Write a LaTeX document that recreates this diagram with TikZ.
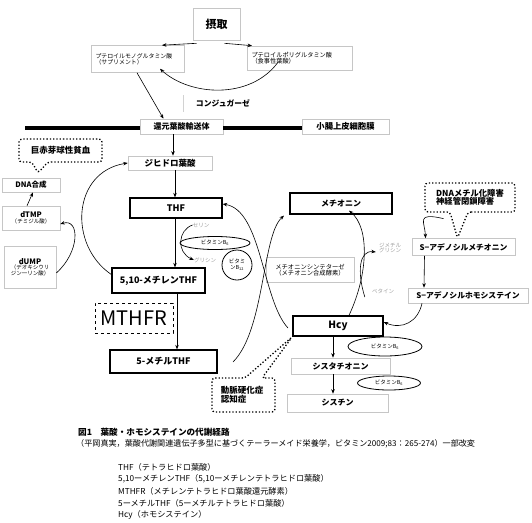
\documentclass[tikz,border=0pt]{standalone}
\usepackage{fontspec}
\setmainfont{Noto Sans CJK JP}
\usetikzlibrary{shapes.geometric,arrows.meta,calc}
\newcommand{\myfs}[1]{\fontsize{#1}{#1}\selectfont}
\tikzset{
  gbox/.style={draw=gray!45, line width=0.6pt, fill=white, inner sep=0pt, align=center},
  kbox/.style={draw=black, line width=1.3pt, fill=white, inner sep=0pt, align=center, font=\bfseries\myfs{9}},
  ar/.style={-{Stealth[length=4.5pt,width=3.5pt]}, line width=0.6pt},
  dotbox/.style={dotted, line width=1.3pt, rounded corners=3pt},
  vit/.style={draw=black, line width=0.8pt, ellipse, inner sep=0pt, font=\myfs{5.5}},
  glab/.style={text=gray!75, font=\myfs{5.5}, inner sep=0pt, align=left},
  captxt/.style={anchor=west, inner sep=0pt, font=\myfs{8.2}},
}
\begin{document}
\begin{tikzpicture}[x=1pt,y=-1pt]
\useasboundingbox (0,0) rectangle (532,522);
\fill[white] (0,0) rectangle (532,522);

% top
\node[gbox, minimum width=47pt, minimum height=32pt, font=\bfseries\myfs{11}] (intake) at (216.5,24) {摂取};
\node[gbox, minimum width=93pt, minimum height=27pt, text width=85pt, align=left, font=\myfs{5.9}] (mono) at (138,59) {プテロイルモノグルタミン酸\\（サプリメント）};
\node[gbox, minimum width=105pt, minimum height=24pt, text width=97pt, align=left, font=\myfs{6.2}] (poly) at (300,58) {プテロイルポリグルタミン酸\\（食事性葉酸）};
\node[font=\bfseries\myfs{7.8}, inner sep=0pt] (conj) at (223,103) {コンジュガーゼ};
\coordinate (cl1) at (183,95);
\coordinate (cl2) at (183,112);
\draw[gray!35, line width=0.6pt] (cl1) -- (cl2);

\node[gbox, minimum width=83pt, minimum height=15pt, font=\bfseries\myfs{8}] (transp) at (181.5,126.5) {還元葉酸輸送体};
\node[gbox, minimum width=87pt, minimum height=15pt, font=\bfseries\myfs{8.3}] (memb) at (345.5,126.5) {小腸上皮細胞膜};
\coordinate (mleft) at (25,128);
\draw[line width=4pt] (mleft) -- (mleft -| transp.west);
\draw[line width=4pt] (transp.east |- mleft) -- (memb.west |- mleft);

\draw[ar] ([xshift=-20pt,yshift=-3pt]intake.south) -- ([xshift=24pt]mono.north);
\draw[ar] ([xshift=8pt,yshift=-3pt]intake.south) -- ([xshift=-48pt]poly.north);
\draw[ar] ([xshift=-22pt,yshift=8pt]poly.south) .. controls (250,100) and (190,96) .. ([xshift=22pt,yshift=4pt]mono.south);
\draw[ar] ([xshift=-1pt]mono.south) -- ([xshift=-18pt]transp.north);

% folate cycle
\node[gbox, minimum width=84pt, minimum height=14pt, font=\bfseries\myfs{8.5}] (dhf) at (170,163) {ジヒドロ葉酸};
\node[kbox, minimum width=92pt, minimum height=20pt] (thf) at (176,208) {THF};
\node[kbox, minimum width=93pt, minimum height=25pt] (m510) at (158.5,280.5) {5,10-メチレンTHF};
\node[draw, dashed, line width=0.9pt, minimum width=78pt, minimum height=30pt, inner sep=0pt, font=\myfs{20}] (mthfr) at (134,318) {MTHFR};
\node[kbox, minimum width=107pt, minimum height=23pt] (m5) at (163.5,361.5) {5-メチルTHF};

\draw[ar] ([xshift=-8.5pt]transp.south) -- ([xshift=3pt]dhf.north);
\draw[ar] ([xshift=5pt]dhf.south) -- ([xshift=-1pt]thf.north);
\draw[ar] ([xshift=-1pt]thf.south) -- ([xshift=16.5pt]m510.north);
\draw[ar] ([xshift=18.5pt]m510.south) -- ([xshift=13.5pt]m5.north);

\node[glab] (ser) at (201,225) {セリン};
\node[glab] (gly) at (205,260) {グリシン};
\draw[ar] (ser.west) .. controls (178,230) and (176,252) .. (gly.west);
\node[vit, minimum width=70pt, minimum height=13pt] (b6t) at (215,243) {ビタミンB\textsubscript{6}};
\node[draw, circle, line width=0.8pt, minimum size=30pt, inner sep=0pt, align=center, font=\myfs{5.5}] (b12) at (237,265) {ビタミ\\ンB\textsubscript{12}};

% DNA side
\node[gbox, minimum width=58pt, minimum height=14pt, font=\bfseries\myfs{7.5}] (dna) at (31,185) {DNA合成};
\node[gbox, minimum width=58pt, minimum height=24pt, font=\myfs{5.5}] (dtmp) at (31,218) {{\bfseries\myfs{7.5}dTMP}\\（チミジル酸）};
\node[gbox, minimum width=52pt, minimum height=42pt, font=\myfs{5.5}] (dump) at (30,267) {{\bfseries\myfs{7.5}dUMP}\\（デオキシウリ\\ジン一リン酸）};
\draw[ar] ([xshift=-4pt]dtmp.north) -- ([xshift=2pt]dna.south);
\draw[ar] ([yshift=-6pt]dump.east) .. controls (80,252) and (80,218) .. ([yshift=-6pt]dtmp.east);
\draw[ar] ([yshift=6pt]m510.west) .. controls (68,245) and (72,172) .. (dhf.west);

\coordinate (an1) at (19,139);
\coordinate (an2) at (102,162);
\coordinate (antip) at (38,173);
\draw[dotbox] (48,162) -- (an2) -- (an2 |- an1) -- (an1) -- (an1 |- an2) -- (32,162) -- (antip) -- cycle;
\node[font=\bfseries\myfs{8.5}, inner sep=0pt] (anemia) at (60.5,150.5) {巨赤芽球性貧血};

% methionine cycle
\node[kbox, minimum width=102pt, minimum height=21pt, font=\bfseries\myfs{8}] (met) at (341,203.5) {メチオニン};
\node[gbox, minimum width=103pt, minimum height=17pt, font=\bfseries\myfs{7.8}] (sam) at (463.5,247) {S−アデノシルメチオニン};
\node[gbox, minimum width=120pt, minimum height=15pt, font=\bfseries\myfs{7.8}] (sah) at (468,295.5) {S−アデノシルホモシステイン};
\node[gbox, minimum width=88pt, minimum height=25pt, font=\myfs{6.3}] (synth) at (310,270) {メチオニンシンテターゼ\\（メチオニン合成酵素）};
\node[kbox, minimum width=90pt, minimum height=20pt, font=\bfseries\myfs{10}] (hcy) at (338,326) {Hcy};
\node[vit, minimum width=74pt, minimum height=19pt] (b6a) at (385,346.5) {ビタミンB\textsubscript{6}};
\node[gbox, minimum width=99pt, minimum height=16pt, font=\bfseries\myfs{8}] (cysta) at (340.5,366) {シスタチオニン};
\node[vit, minimum width=63pt, minimum height=14pt] (b6b) at (389,383) {ビタミンB\textsubscript{6}};
\node[gbox, minimum width=101pt, minimum height=18pt, font=\bfseries\myfs{8}] (cystine) at (337.5,403) {シスチン};

\coordinate (dn1) at (425,183);
\coordinate (dn2) at (515,212);
\draw[dotbox] (468,212) -- (dn2) -- (dn2 |- dn1) -- (dn1) -- (dn1 |- dn2) -- (450,212) -- ([xshift=-6pt]sam.north) -- cycle;
\node[font=\bfseries\myfs{8.3}, inner sep=0pt, align=left] (dnameth) at (470,197.5) {DNAメチル化障害\\神経管閉鎖障害};

\coordinate (at1) at (212,378);
\coordinate (at2) at (275,412);
\draw[dotbox] (262,378) -- (at2 |- at1) -- (at2) -- (at1 |- at2) -- (at1) -- (245,378) -- (hcy.south west) -- cycle;
\node[font=\bfseries\myfs{8.5}, inner sep=0pt, align=left] (athero) at (242,395) {動脈硬化症\\認知症};

\coordinate (c5s) at (233,362);
\draw[ar] (c5s) .. controls (265,330) and (262,235) .. ([xshift=-57pt,yshift=-1pt]met.south);
\coordinate (chs) at (288,328);
\draw[ar] (chs) .. controls (262,300) and (262,210) .. ([yshift=4pt]thf.east);

\draw[ar] ([xshift=51pt,yshift=-4pt]met.east |- met.south) .. controls (415,212) and (425,222) .. ([xshift=-38pt]sam.north);
\draw[ar] ([xshift=-39pt]sam.south) -- ([xshift=-44pt]sah.north);
\draw[ar] ([xshift=-46pt]sah.south) .. controls (418,322) and (402,330) .. ([yshift=4pt]hcy.east);
\draw[ar] ([xshift=11pt]hcy.north) .. controls (368,275) and (370,228) .. ([xshift=8pt,yshift=4pt]met.south);
\node[glab] (bet) at (383,291) {ベタイン};
\node[glab] (dmg) at (390,248) {ジメチル\\グリシン};
\draw[ar] ([xshift=-7pt,yshift=-6pt]bet.west) .. controls (357,272) and (359,250) .. ([xshift=-3pt,yshift=-4pt]dmg.west);

\draw[ar] ([xshift=-5pt]hcy.south) -- ([xshift=-7.5pt]cysta.north);
\draw[ar] ([xshift=-7.5pt]cysta.south) -- ([xshift=-4.5pt]cystine.north);

% captions
\node[captxt, font=\bfseries\myfs{8.6}] (c1) at (78,432) {図1　葉酸・ホモシステインの代謝経路};
\node[captxt, font=\myfs{8.1}] (c2) at (76,444) {（平岡真実，葉酸代謝関連遺伝子多型に基づくテーラーメイド栄養学，ビタミン2009;83：265-274）一部改変};
\node[captxt] (l1) at (118,467) {THF（テトラヒドロ葉酸）};
\node[captxt] (l2) at (118,479) {5,10ーメチレンTHF（5,10ーメチレンテトラヒドロ葉酸）};
\node[captxt] (l3) at (118,491) {MTHFR（メチレンテトラヒドロ葉酸還元酵素）};
\node[captxt] (l4) at (118,503) {5ーメチルTHF（5ーメチルテトラヒドロ葉酸）};
\node[captxt] (l5) at (118,515) {Hcy（ホモシステイン）};
\end{tikzpicture}
\end{document}
